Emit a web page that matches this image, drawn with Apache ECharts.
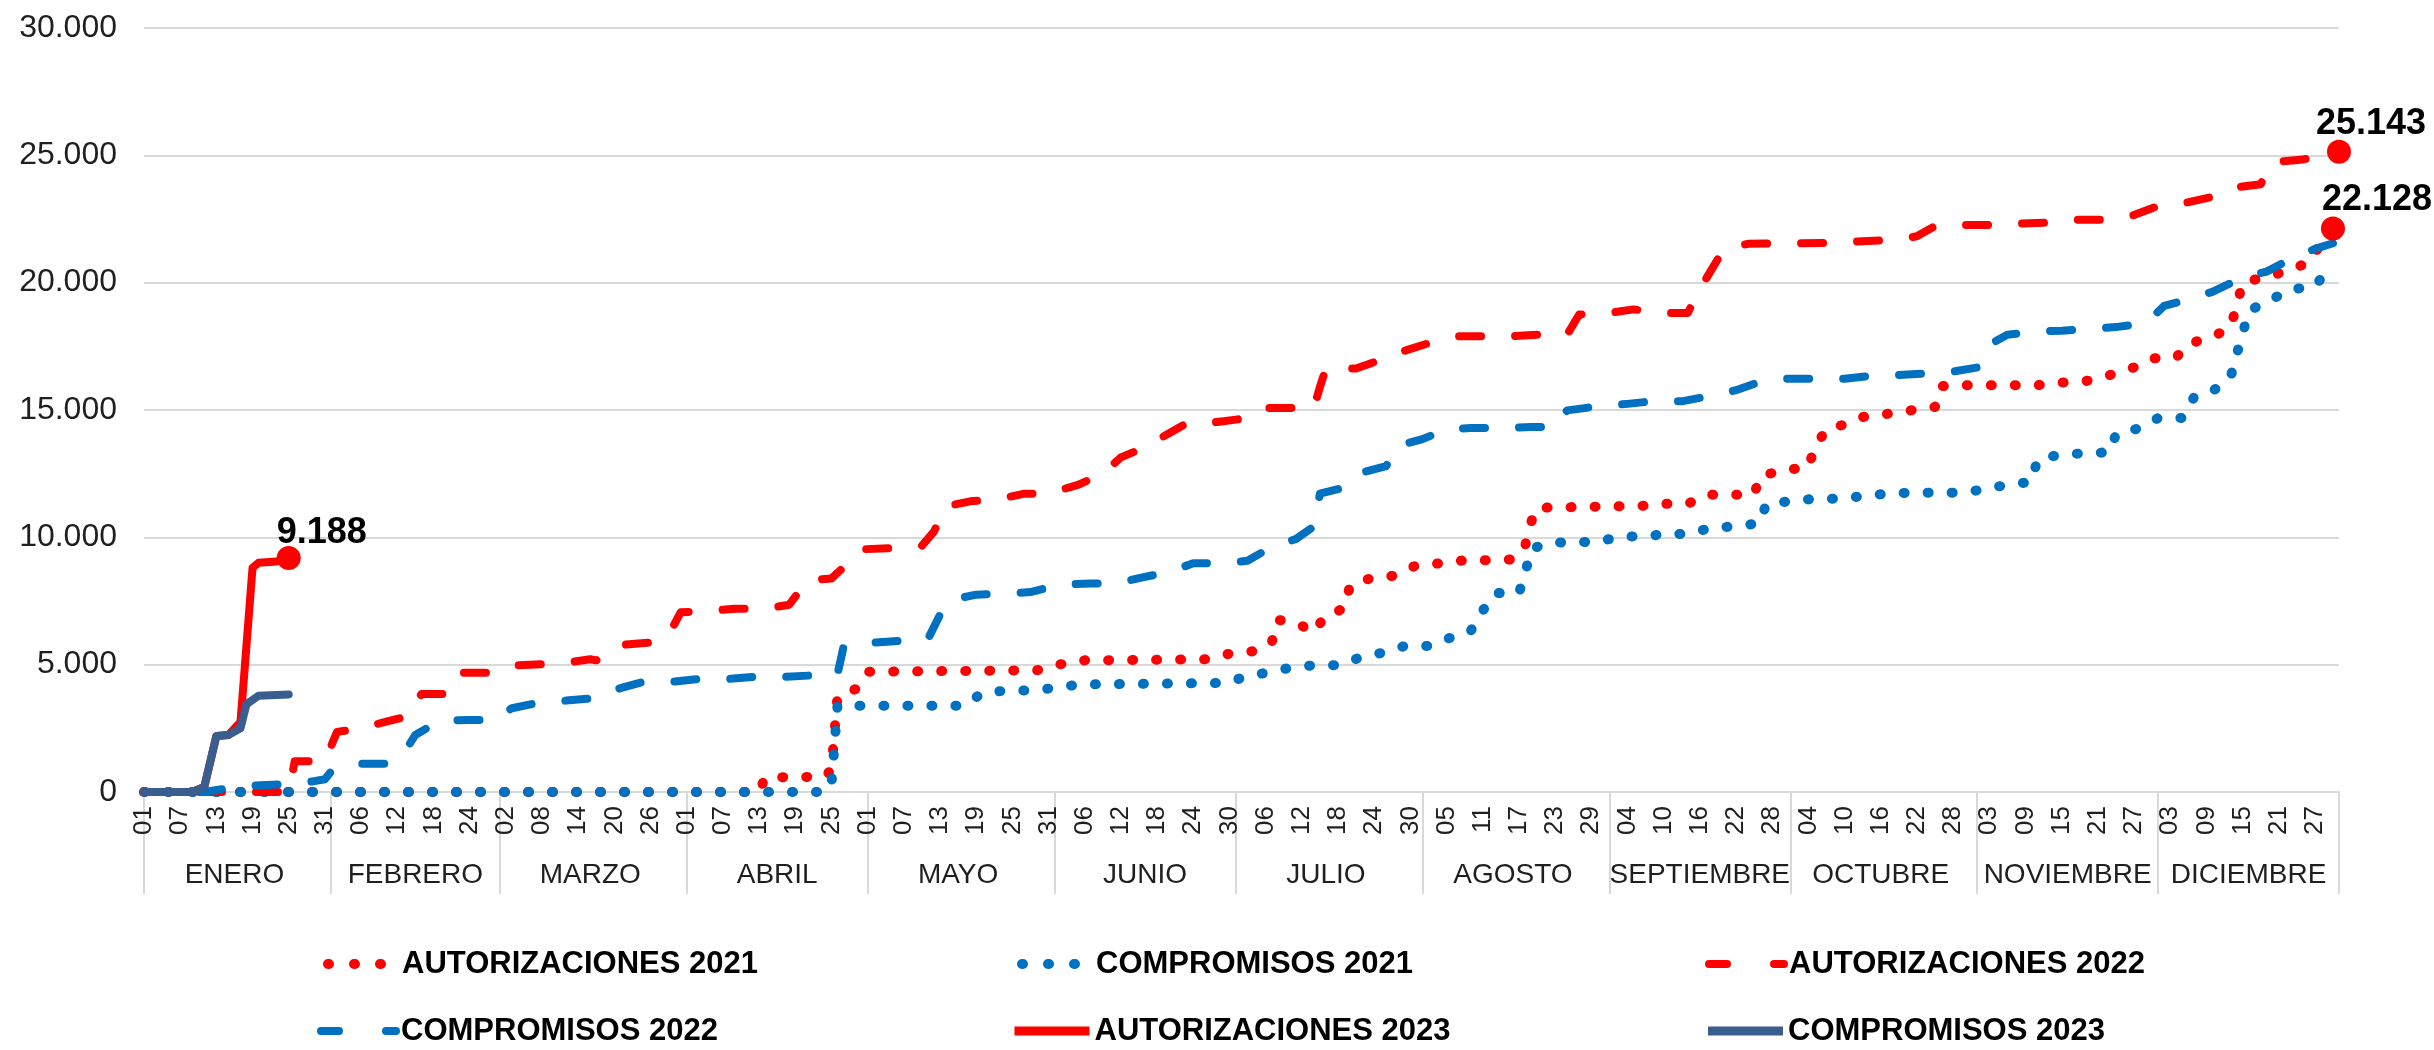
<!DOCTYPE html>
<html>
<head>
<meta charset="utf-8">
<script src="https://cdn.jsdelivr.net/npm/echarts@6/dist/echarts.min.js"></script>
<style>
html,body{margin:0;padding:0;background:#fff;}
#chart{width:2434px;height:1050px;}
</style>
</head>
<body>
<div id="chart"></div>
<script>
// ---------- axis categories ----------
const MONTHS = ['ENERO','FEBRERO','MARZO','ABRIL','MAYO','JUNIO','JULIO','AGOSTO','SEPTIEMBRE','OCTUBRE','NOVIEMBRE','DICIEMBRE'];
const MONTH_DAYS = [31,28,31,30,31,30,31,31,30,31,30,31];
const Y_TICKS = [0, 5000, 10000, 15000, 20000, 25000, 30000];

// ---------- series values: [day index of the year, cumulative value] ----------
const aut2021Days = [0,102,103,113,114,115,118,120,145,148,152,156,176,180,184,187,188,191,194,196,199,200,204,207,211,215,219,223,227,229,230,231,244,248,251,256,259,267,268,272,276,277,279,282,285,289,293,297,298,302,314,318,322,326,330,333,337,339,343,346,347,348,352,356,359,361,363];
const aut2021Values = [0,0,575,600,900,3750,4040,4720,4775,4775,5015,5170,5210,5430,5530,5865,6760,6660,6265,6960,7195,8105,8445,8485,8900,8980,9100,9100,9135,9630,10585,11160,11220,11220,11315,11315,11675,11675,12405,12645,12745,13495,14250,14430,14725,14845,14985,15120,15935,15975,15975,16075,16135,16370,16670,17025,17065,17600,17860,18255,19050,20000,20235,20495,20810,21525,22128];

const comp2021Days = [0,113,114,115,136,139,143,147,151,155,179,183,186,190,194,198,202,205,209,213,216,220,222,224,228,229,230,233,241,245,249,252,256,260,264,268,269,273,277,281,285,289,293,301,305,309,313,314,318,326,327,331,334,338,340,343,346,347,348,349,352,356,360,363];
const comp2021Values = [0,0,300,3390,3390,3885,3985,3985,4085,4220,4280,4540,4680,4875,4975,4975,5310,5450,5730,5730,6005,6320,7115,7810,7810,8540,9535,9790,9830,10030,10030,10130,10130,10385,10425,10565,11315,11415,11515,11515,11615,11715,11755,11755,11870,12070,12170,13060,13260,13340,14050,14290,14685,14685,15520,15735,16270,17165,17955,18890,19245,19740,19840,20800];

const aut2022Days = [0,24,25,30,32,36,40,44,46,51,53,58,62,66,71,74,75,79,84,87,89,94,98,103,107,110,114,117,119,124,129,131,133,137,142,146,150,155,159,162,166,170,173,178,182,186,194,195,196,201,205,209,213,218,227,231,236,238,243,247,252,256,258,260,262,266,280,285,290,294,297,302,307,311,316,320,326,330,334,338,343,347,351,353,358,364];
const aut2022Values = [0,0,1210,1210,2360,2500,2755,2990,3845,3845,4680,4680,4975,5015,5110,5210,5170,5770,5870,6160,7055,7115,7195,7195,7355,8305,8385,9040,9530,9575,9670,10225,11220,11415,11515,11715,11715,12070,12505,13140,13540,14090,14490,14530,14650,15080,15080,15900,16630,16630,16965,17320,17620,17900,17900,17955,17955,18750,18810,18950,18810,18810,19740,20530,21325,21525,21565,21625,21680,21820,22220,22260,22260,22320,22355,22475,22475,22655,23010,23110,23370,23745,23865,24735,24835,25143];

const comp2022Days = [0,10,14,18,23,28,30,31,35,40,43,45,49,54,58,61,65,70,73,75,79,83,88,92,97,101,106,111,115,116,117,121,125,130,132,134,138,143,147,152,157,161,165,170,174,179,183,187,191,194,195,199,202,206,208,212,216,220,225,230,234,236,241,246,250,255,259,264,268,272,277,282,286,291,295,300,304,306,309,314,318,323,327,332,335,339,343,348,352,356,360,364];
const comp2022Values = [0,0,150,250,300,416,500,800,1110,1110,1500,2240,2800,2830,2830,3290,3490,3590,3650,3690,4080,4340,4340,4440,4440,4520,4520,4580,4620,5700,5770,5870,5930,6005,6960,7550,7750,7790,7850,8145,8185,8185,8400,8640,8980,8980,9080,9630,9930,10425,11715,11950,12545,12800,13595,13855,14250,14290,14290,14330,14330,14985,15140,15240,15340,15340,15520,15775,16110,16230,16230,16230,16330,16370,16430,16510,16670,17560,17955,18095,18115,18195,18255,18410,19085,19345,19640,20195,20435,20930,21325,21625];

const aut2023Days = [0,8,10,12,14,16,18,19,22,24];
const aut2023Values = [0,0,200,2200,2240,2750,8800,9000,9050,9188];

const comp2023Days = [0,8,10,12,14,16,17,19,24];
const comp2023Values = [0,0,200,2200,2240,2500,3450,3780,3830];

// ---------- build categories ----------
const categories = [];
const monthStart = new Set();
const monthMid = {};
MONTH_DAYS.forEach(function (len, m) {
  monthStart.add(categories.length);
  monthMid[categories.length + Math.floor(len / 2)] = MONTHS[m];
  for (let d = 1; d <= len; d++) categories.push(d < 10 ? '0' + d : String(d));
});
const LAST = categories.length - 1;

function pairs(days, vals) { return days.map(function (d, i) { return [d, vals[i]]; }); }
function fmt(v) { return String(Math.round(v)).replace(/\B(?=(\d{3})+(?!\d))/g, '.'); }

const FONT = 'Liberation Sans, Arial, sans-serif';
const RED = '#FF0000', BLUE = '#0070C0', NAVY = '#3A5D8F';

const dotted = [1, 23], dashed = [22, 34];

function lineSeries(name, days, vals, color, type, width) {
  return {
    name: name, type: 'line', xAxisIndex: 0,
    data: pairs(days, vals),
    symbol: 'none', smooth: false, silent: true,
    lineStyle: { color: color, width: width, type: type, cap: 'round', join: 'round' },
    itemStyle: { color: color }
  };
}

const endPoints = [
  { value: [aut2023Days[aut2023Days.length - 1], aut2023Values[aut2023Values.length - 1]], label: { offset: [33, -25] } },
  { value: [aut2022Days[aut2022Days.length - 1], aut2022Values[aut2022Values.length - 1]], label: { offset: [32, -28] } },
  { value: [aut2021Days[aut2021Days.length - 1], aut2021Values[aut2021Values.length - 1]], label: { offset: [44, -28] } }
];

// legend icon styles
const iconDot = function (c) { return { name: '', lineStyle: { color: c, width: 10, type: [1, 25], dashOffset: -6, cap: 'round' }, itemStyle: { opacity: 0 } }; };
const iconDash = function (c) { return { name: '', lineStyle: { color: c, width: 8, type: [18, 47], dashOffset: 0, cap: 'round' }, itemStyle: { opacity: 0 } }; };
const iconSolid = function (c) { return { name: '', lineStyle: { color: c, width: 9, type: 'solid', cap: 'butt' }, itemStyle: { opacity: 0 } }; };
function item(name, st) { st.name = name; return st; }

const legendBase = {
  orient: 'horizontal', left: 317, itemGap: 0, itemWidth: 75, itemHeight: 14, padding: 0,
  selectedMode: false,
  textStyle: { fontFamily: FONT, fontSize: 31, fontWeight: 'bold', color: '#000', lineHeight: 36, width: 609 }
};

const option = {
  animation: false,
  backgroundColor: '#fff',
  grid: { left: 144, right: 95, top: 28, bottom: 258, containLabel: false, outerBoundsMode: 'none' },
  legend: [
    Object.assign({}, legendBase, { top: 946, data: [
      item('AUTORIZACIONES 2021', iconDot(RED)),
      item('COMPROMISOS 2021', iconDot(BLUE)),
      item('AUTORIZACIONES 2022', iconDash(RED))
    ] }),
    Object.assign({}, legendBase, { top: 1013, data: [
      item('COMPROMISOS 2022', iconDash(BLUE)),
      item('AUTORIZACIONES 2023', iconSolid(RED)),
      item('COMPROMISOS 2023', iconSolid(NAVY))
    ] })
  ],
  xAxis: [
    {
      type: 'category', data: categories, boundaryGap: false, position: 'bottom',
      axisLine: { show: true, lineStyle: { color: '#D9D9D9', width: 2 } },
      axisTick: {
        show: true, inside: false, length: 102,
        interval: function (i) { return monthStart.has(i) || i === LAST; },
        lineStyle: { color: '#D9D9D9', width: 2 }
      },
      axisLabel: {
        interval: function (i) { return i % 6 === 0; },
        rotate: 90, margin: 14, fontSize: 26, fontFamily: FONT, color: '#1f1f1f'
      },
      splitLine: { show: false }
    },
    {
      type: 'category', data: categories, boundaryGap: false, position: 'bottom', gridIndex: 0,
      axisLine: { show: false }, axisTick: { show: false }, splitLine: { show: false },
      axisLabel: {
        interval: function (i) { return monthMid[i] !== undefined; },
        formatter: function (v, i) { return monthMid[i] || ''; },
        margin: 69, fontSize: 28, fontFamily: FONT, color: '#1f1f1f'
      }
    }
  ],
  yAxis: {
    type: 'value', min: Y_TICKS[0], max: Y_TICKS[Y_TICKS.length - 1], interval: Y_TICKS[1] - Y_TICKS[0],
    axisLine: { show: false }, axisTick: { show: false },
    splitLine: { show: true, lineStyle: { color: '#D9D9D9', width: 2 } },
    axisLabel: { formatter: fmt, fontSize: 32, fontFamily: FONT, color: '#1f1f1f', margin: 27 }
  },
  series: [
    lineSeries('AUTORIZACIONES 2021', aut2021Days, aut2021Values, RED, dotted, 10),
    lineSeries('COMPROMISOS 2021', comp2021Days, comp2021Values, BLUE, dotted, 10),
    lineSeries('AUTORIZACIONES 2022', aut2022Days, aut2022Values, RED, dashed, 8),
    lineSeries('COMPROMISOS 2022', comp2022Days, comp2022Values, BLUE, dashed, 8),
    lineSeries('AUTORIZACIONES 2023', aut2023Days, aut2023Values, RED, 'solid', 8),
    lineSeries('COMPROMISOS 2023', comp2023Days, comp2023Values, NAVY, 'solid', 8),
    {
      name: 'endpoints', type: 'scatter', xAxisIndex: 0, silent: true,
      symbol: 'circle', symbolSize: 24, itemStyle: { color: RED, opacity: 1 },
      data: endPoints,
      label: {
        show: true, position: 'inside', fontFamily: FONT, fontSize: 36, fontWeight: 'bold', color: '#000',
        formatter: function (p) { return fmt(p.value[1]); }
      },
      z: 5
    }
  ]
};

const chart = echarts.init(document.getElementById('chart'), null, { renderer: 'canvas' });
chart.setOption(option);
</script>
</body>
</html>
